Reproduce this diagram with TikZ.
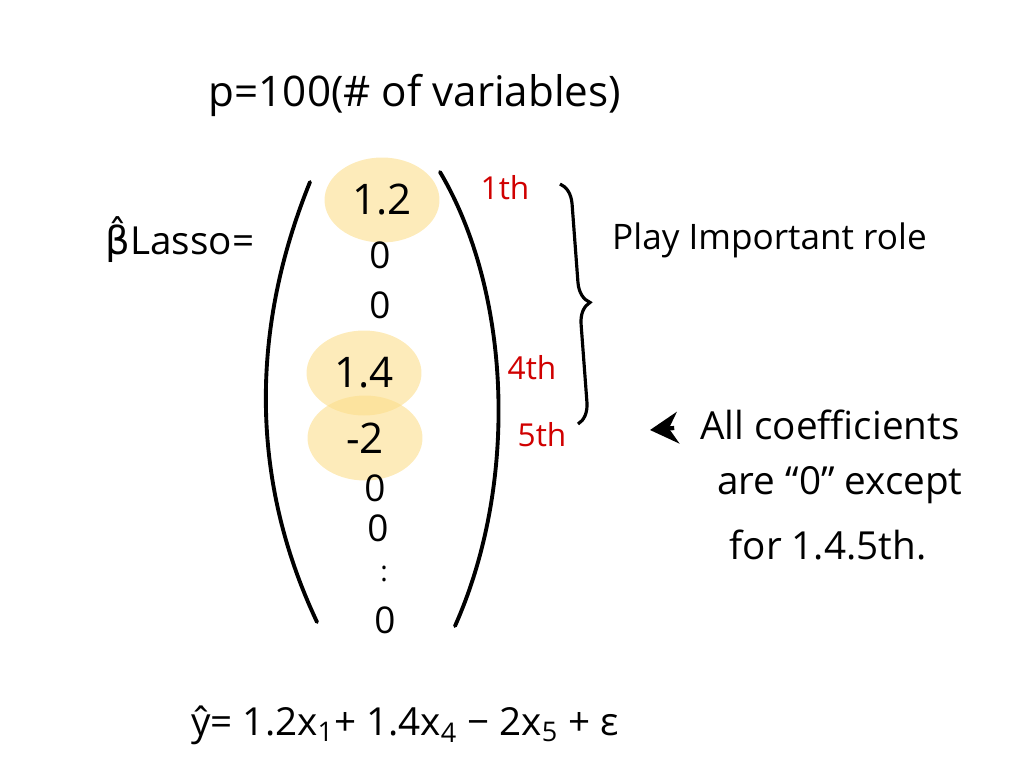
\documentclass[tikz,border=0pt]{standalone}
\usepackage{fontspec}
\setmainfont{Open Sans}
\newfontfamily\dejavu{DejaVu Sans}
\usetikzlibrary{positioning,shapes.geometric,arrows.meta,decorations.pathreplacing}
\definecolor{hlcol}{RGB}{252,222,140}
\definecolor{ordred}{RGB}{208,0,0}
\tikzset{
  hand/.style={font=\fontsize{22}{26}\selectfont},
  coef/.style={font=\fontsize{24}{28}\selectfont},
  zero/.style={font=\fontsize{21}{24}\selectfont},
  hl/.style={coef,ellipse,fill=hlcol,fill opacity=0.6,text opacity=1,minimum width=2.3cm,minimum height=1.7cm},
  ordlab/.style={font=\fontsize{18}{22}\selectfont,text=ordred},
  paren/.style={line width=2.2pt,line cap=round},
}
\begin{document}
\begin{tikzpicture}[x=0.02cm,y=-0.02cm]
      \useasboundingbox (0,0) rectangle (1017,775);
      \node[hand,font=\fontsize{24}{28}\selectfont] (title) at (415,95) {p=100(\# of variables)};
      \node[hand] (beta) at (180,240) {{\dejavu β̂}Lasso=};
      % vector entries
      \node[hl] (v1) at (382,200) {1.2};
      \node[zero] (v2) at (380,255) {0};
      \node[zero] (v3) at (380,305) {0};
      \node[hl] (v4) at (364,373) {1.4};
      \node[hl] (v5) at (365,438) {-2};
      \node[zero] (v6) at (375,488) {0};
      \node[zero] (v7) at (378,528) {0};
      \node[zero,font=\fontsize{16}{18}\selectfont] (vd) at (384,574) {:};
      \node[zero] (v8) at (385,620) {0};
      \draw[paren] (310,182) .. controls (250,330) and (250,480) .. (317,622);
      \draw[paren] (440,172) .. controls (510,290) and (520,480) .. (455,626);
      % which ones
      \node[ordlab] (lab1) at (505,188) {1th};
      \node[ordlab] (lab4) at (532,368) {4th};
      \node[ordlab] (lab5) at (542,435) {5th};
      \coordinate (brTop) at (560,184);
      \coordinate (brBot) at (578,424);
      \draw[line width=1.8pt,decorate,decoration={brace,amplitude=12pt}] (brTop) -- (brBot);
      \node[hand,font=\fontsize{20}{24}\selectfont,anchor=west] (role) at (606,240) {Play Important role};
      % note
      \node[hand] (note1) at (830,425) {All coefficients};
      \node[hand] (note2) at (840,485) {are ``0'' except};
      \node[hand] (note3) at (828,545) {for 1.4.5th.};
      \coordinate (arrHead) at (650,430);
      \draw[-{Stealth[length=16pt,width=18pt]},line width=2.4pt] (note1.west) ++(-20,3) -- (arrHead);
      \node[hand] (yhat) at (405,725) {\^{y}= 1.2x\textsubscript{1}+ 1.4x\textsubscript{4} − 2x\textsubscript{5} + ε};
\end{tikzpicture}
\end{document}
